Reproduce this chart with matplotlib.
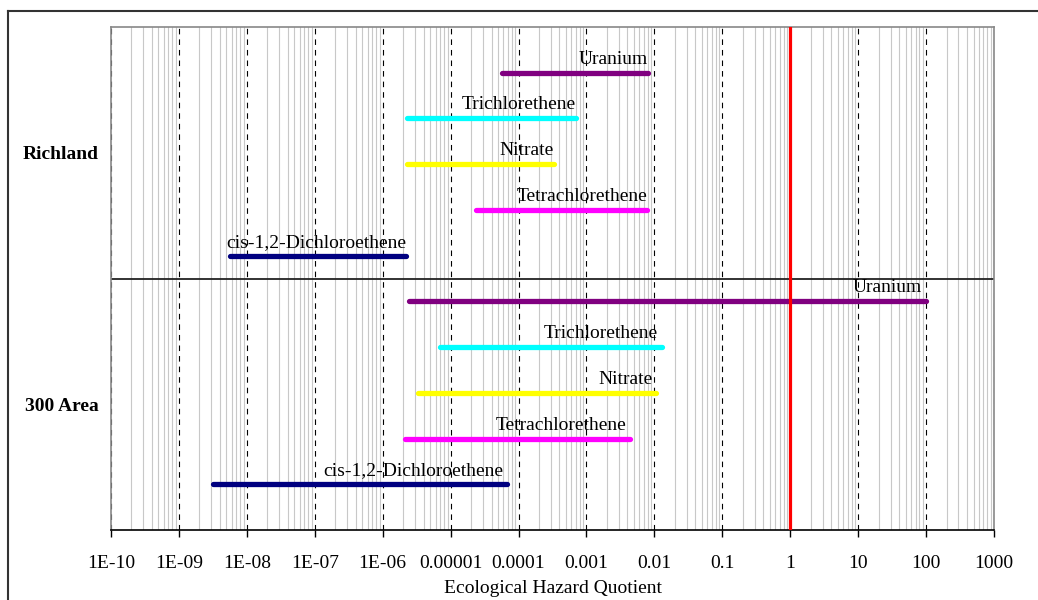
import numpy as np
import matplotlib
matplotlib.use("Agg")
import matplotlib.pyplot as plt
from matplotlib.lines import Line2D

plt.rcParams['font.family'] = ['Liberation Serif', 'DejaVu Serif']

# chemicals, top to bottom within each area
chemicals = ["Uranium", "Trichlorethene", "Nitrate", "Tetrachlorethene", "cis-1,2-Dichloroethene"]
colors = ["#800080", "#00FFFF", "#FFFF00", "#FF00FF", "#000080"]

# hazard quotient ranges (low, high)
richland_low = [5.7e-5, 2.3e-6, 2.3e-6, 2.4e-5, 5.6e-9]
richland_high = [8.0e-3, 7.0e-4, 3.3e-4, 7.8e-3, 2.2e-6]
area300_low = [2.4e-6, 7.0e-6, 3.3e-6, 2.1e-6, 3.2e-9]
area300_high = [100.0, 0.0128, 0.0107, 0.0044, 6.8e-5]

areas = ["Richland", "300 Area"]
area_pos = [2.75, 8.25]
divider = 5.5

tick_vals = [1e-10, 1e-9, 1e-8, 1e-7, 1e-6, 1e-5, 1e-4, 1e-3, 1e-2, 1e-1, 1, 10, 100, 1000]
tick_labels = ["1E-10", "1E-09", "1E-08", "1E-07", "1E-06", "0.00001", "0.0001",
               "0.001", "0.01", "0.1", "1", "10", "100", "1000"]

fig = plt.figure(figsize=(10.38, 6.0), dpi=100)
ax = fig.add_axes([111 / 1038, 1 - 530 / 600, (994 - 111) / 1038, 503 / 600])

# outer frame (only top and left visible in the original)
fig.add_artist(Line2D([8 / 1038, 1], [1 - 11 / 600, 1 - 11 / 600], color="#333333", lw=1.5))
fig.add_artist(Line2D([8 / 1038, 8 / 1038], [0, 1 - 11 / 600], color="#333333", lw=1.5))

ax.set_xscale("log")
ax.set_xlim(1e-10, 1000)
ax.set_ylim(11, 0)

# grid
ax.xaxis.set_minor_locator(matplotlib.ticker.LogLocator(base=10, subs=np.arange(2, 10), numticks=200))
ax.xaxis.set_minor_formatter(matplotlib.ticker.NullFormatter())
ax.grid(which="minor", axis="x", color="#c8c8c8", lw=0.8)
ax.grid(which="major", axis="x", color="black", lw=0.8, linestyle=(0, (5, 4.5)))
ax.set_axisbelow(True)

ax.axhline(divider, color="#222222", lw=1.3, zorder=2)


def draw_area(lows, highs, start, label_shift):
    for i, (lo, hi) in enumerate(zip(lows, highs)):
        y = start + i
        ax.plot([lo, hi], [y, y], color=colors[i], lw=3.8, solid_capstyle="round", zorder=3)
        ax.annotate(chemicals[i], (hi, y), xytext=(label_shift, 6.5), textcoords="offset points",
                    ha="right", va="baseline", fontsize=14, zorder=4)


draw_area(richland_low, richland_high, 1, 0)
draw_area(area300_low, area300_high, 6, -3)

ax.axvline(1, color="red", lw=2.3, zorder=5)

ax.set_xticks(tick_vals)
ax.set_xticklabels(tick_labels, fontsize=14)
ax.tick_params(axis="x", which="major", direction="out", length=5, width=1, color="black", pad=13)
ax.tick_params(axis="x", which="minor", length=0)

ax.set_yticks(area_pos)
ax.set_yticklabels(areas, fontsize=14, fontweight="bold")
ax.tick_params(axis="y", length=0, pad=9)

ax.set_xlabel("Ecological Hazard Quotient", fontsize=14, labelpad=6)

for side in ["top", "left", "right"]:
    ax.spines[side].set_color("#888888")
    ax.spines[side].set_linewidth(1.2)
ax.spines["bottom"].set_color("black")
ax.spines["bottom"].set_linewidth(1.2)

fig.savefig("out.png", dpi=100)
